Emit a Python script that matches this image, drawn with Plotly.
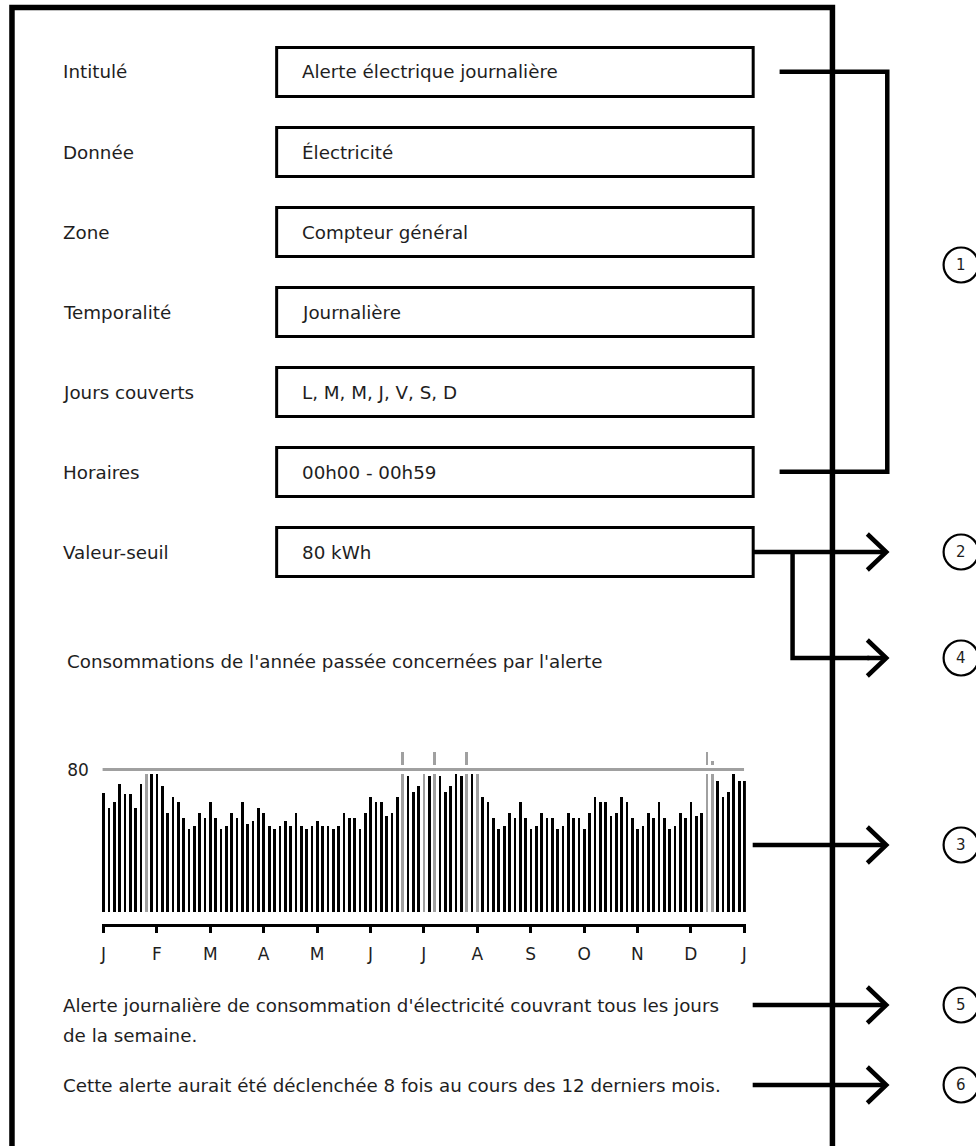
import plotly.graph_objects as go

W, H = 976, 1146

# ---------------- data ----------------
field_labels = ["Intitulé", "Donnée", "Zone", "Temporalité",
                "Jours couverts", "Horaires", "Valeur-seuil"]
field_values = ["Alerte électrique journalière", "Électricité", "Compteur général",
                "Journalière", "L, M, M, J, V, S, D", "00h00 - 00h59", "80 kWh"]
month_labels = ["J", "F", "M", "A", "M", "J", "J", "A", "S", "O", "N", "D", "J"]
threshold = 80
consumption = [
    66.7, 58.4, 61.8, 72.1, 66.5, 66.5, 58.4, 72.1, 81.0, 77.5,
    77.5, 70.8, 55.8, 64.6, 61.8, 52.8, 46.6, 48.3, 55.8, 52.8,
    61.8, 52.8, 46.6, 48.3, 55.8, 52.8, 61.8, 49.6, 51.3, 58.4,
    55.8, 48.3, 46.6, 48.3, 51.3, 48.3, 55.8, 48.3, 46.6, 48.3,
    51.3, 48.3, 48.3, 46.6, 48.3, 55.8, 52.8, 52.8, 46.6, 55.8,
    64.6, 61.8, 61.8, 53.9, 55.8, 64.6, 90.0, 76.4, 67.4, 70.8,
    81.0, 76.4, 90.0, 76.4, 67.4, 70.8, 77.5, 76.4, 90.0, 77.5,
    81.0, 64.6, 61.8, 52.8, 46.6, 48.3, 55.8, 52.8, 61.8, 52.8,
    46.6, 48.3, 55.8, 52.8, 52.8, 46.6, 48.3, 55.8, 52.8, 52.8,
    46.6, 55.8, 64.6, 61.8, 61.8, 53.9, 55.8, 64.6, 61.8, 52.8,
    46.6, 48.3, 55.8, 52.8, 61.8, 52.8, 46.6, 48.3, 55.8, 52.8,
    61.8, 53.9, 55.8, 90.0, 85.0, 73.6, 64.6, 67.4, 77.5, 73.6,
    73.6,
]
chart_title = "Consommations de l'année passée concernées par l'alerte"
description_lines = ["Alerte journalière de consommation d'électricité couvrant tous les jours",
                     "de la semaine."]
summary_text = "Cette alerte aurait été déclenchée 8 fois au cours des 12 derniers mois."
callout_numbers = ["1", "2", "3", "4", "5", "6"]

# ---------------- style ----------------
FONT = "DejaVu Sans"
FS = 18.3
TXT = "#1e1e1e"
BLACK = "#000000"
GRAY = "#a0a0a0"


def px(x):
    return x / W


def py(y):
    return 1 - y / H


n = len(consumption)
xs = list(range(n))
colors = [GRAY if v > threshold else BLACK for v in consumption]

fig = go.Figure()
fig.add_trace(go.Bar(x=xs, y=consumption, marker=dict(color=colors, line=dict(width=0)),
                     width=0.5, hoverinfo="skip", showlegend=False))

tickvals = [i * (n - 1) / 12 for i in range(13)]

shapes = []
annotations = []

# threshold line with white halo
shapes.append(dict(type="line", xref="x", yref="y", x0=-0.15, x1=119.95,
                   y0=threshold, y1=threshold, line=dict(color="white", width=9), layer="above"))
shapes.append(dict(type="line", xref="x", yref="y", x0=-0.15, x1=119.95,
                   y0=threshold, y1=threshold, line=dict(color=GRAY, width=3), layer="above"))


def pline(pts, width=4.5, color=BLACK):
    d = "M " + " L ".join(f"{px(x):.5f},{py(y):.5f}" for x, y in pts)
    shapes.append(dict(type="path", xref="paper", yref="paper", path=d,
                       line=dict(color=color, width=width)))


def text(x, y, s, size=FS, anchor="left"):
    annotations.append(dict(x=px(x), y=py(y), xref="paper", yref="paper", text=s,
                            showarrow=False, xanchor=anchor, yanchor="middle",
                            font=dict(family=FONT, size=size, color=TXT)))


# outer frame
pline([(10, 1160), (10, 7.5), (833, 7.5), (833, 1160)], width=5.5)

# field rows
for i, (lab, val) in enumerate(zip(field_labels, field_values)):
    yc = 72 + 80 * i
    shapes.append(dict(type="rect", xref="paper", yref="paper",
                       x0=px(275.5), x1=px(753.5), y0=py(yc - 24.5), y1=py(yc + 24.5),
                       line=dict(color=BLACK, width=3)))
    text(59, yc, lab)
    text(299, yc, val)

# bracket for callout 1
pline([(780, 71.7), (888, 71.7), (888, 471.7), (780, 471.7)], width=4.5)


def arrow(y, x0=753):
    pline([(x0, y), (887, y)], width=4.5)
    pline([(868, y - 18), (887, y), (868, y + 18)], width=4.5)


arrow(552)
pline([(793, 552), (793, 658), (870, 658)], width=4.5)
arrow(658, x0=868)
arrow(845)
arrow(1005)
arrow(1085)

# callout circles
circle_y = [265, 552, 845, 658, 1005, 1085]
for num, cy in zip(callout_numbers, circle_y):
    r = 17.5
    shapes.append(dict(type="circle", xref="paper", yref="paper",
                       x0=px(962 - r), x1=px(962 + r), y0=py(cy + r), y1=py(cy - r),
                       line=dict(color=BLACK, width=2.2)))
    text(962, cy, num, size=15, anchor="center")

# texts
text(63, 661, chart_title)
for j, line in enumerate(description_lines):
    text(59, 1005 + 30 * j, line)
text(59, 1085, summary_text)

y_lo, y_hi = -6.6, 100
fig.update_layout(
    width=W, height=H,
    margin=dict(l=0, r=0, t=0, b=0),
    paper_bgcolor="white", plot_bgcolor="white",
    bargap=0,
    xaxis=dict(domain=[px(100.1), px(746.2)], range=[-0.3, 120.3],
               tickvals=tickvals, ticktext=month_labels,
               showline=True, linewidth=3, linecolor=BLACK,
               ticks="outside", ticklen=6, tickwidth=3, tickcolor=BLACK,
               showgrid=False, zeroline=False, fixedrange=True,
               tickfont=dict(family=FONT, size=17, color=TXT), ticklabelstandoff=7),
    yaxis=dict(domain=[py(923.7), py(734)], range=[y_lo, y_hi],
               tickvals=[threshold], ticktext=[str(threshold)],
               showline=False, showgrid=False, zeroline=False, ticks="",
               fixedrange=True, ticklabelstandoff=12,
               tickfont=dict(family=FONT, size=17, color=TXT)),
    shapes=shapes,
    annotations=annotations,
)

fig.write_html("out.html", config={"displayModeBar": False},
               post_script="document.body.style.margin='0';document.body.style.overflow='hidden';")
